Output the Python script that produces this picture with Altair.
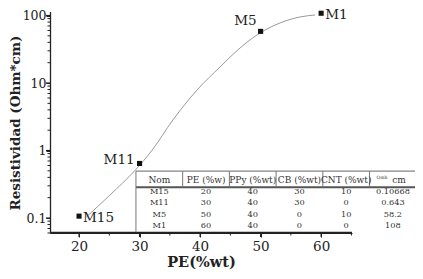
import altair as alt
import pandas as pd

# ---- measured samples ----
names = ["M15", "M11", "M5", "M1"]
pe = [20, 30, 50, 60]
res = [0.10668, 0.643, 58.2, 108]

# fitted curve
curve_x = [21.2, 25.1, 29.3, 32.1, 35.5, 39.5, 43.3, 46.6, 49.9, 53.2, 56.5, 59.0]
curve_y = [0.1035, 0.219, 0.514, 1.02, 2.83, 7.88, 17.3, 33.0, 55.1, 77.5, 95.1, 101.8]

# ---- inset table ----
col_heads = ["Nom", "PE (%w)", "PPy (%wt)", "CB (%wt)", "CNT (%wt)", "cm"]
col_pe = ["20", "30", "50", "60"]
col_ppy = ["40", "40", "40", "40"]
col_cb = ["30", "30", "0", "0"]
col_cnt = ["10", "0", "10", "0"]
col_res = ["0.10668", "0.643", "58.2", "108"]
res_unit_sup = "Omh"

# ---- axes ----
x_domain = [15.2, 65.1]
y_domain = [0.06, 112.7]
y_major = [0.1, 1, 10, 100]
y_minor = [0.06, 0.07, 0.08, 0.09, 0.2, 0.3, 0.4, 0.5, 0.6, 0.7, 0.8, 0.9,
           2, 3, 4, 5, 6, 7, 8, 9, 20, 30, 40, 50, 60, 70, 80, 90]
x_major = [20, 30, 40, 50, 60]
x_minor = [25, 35, 45, 55, 65]

FONT = "DejaVu Serif"
TXT = "#222222"
TT = "#333333"
AX = "#222222"
W, H = 302, 221

# table geometry, expressed in the chart's own data units
TX0, CW = 29.4, 7.72           # left border (PE) and column width
LY_HDR, LY_STEP = -0.44, 0.17  # log10 of header row centre, row step (decades)
LY_TOP, LY_HLINE, LY_BOT = -0.305, -0.545, -1.21

pts = pd.DataFrame({"name": names, "pe": pe, "res": res})
curve = pd.DataFrame({"pe": curve_x, "res": curve_y})

xs = alt.Scale(domain=x_domain, nice=False, zero=False)
ys = alt.Scale(type="log", domain=y_domain, nice=False)

x_axis = alt.Axis(
    values=x_major, tickSize=4, tickWidth=1, grid=False, title="PE(%wt)", labelFontSize=13.5,
    labelPadding=2, titleFontSize=14.5, titlePadding=3,
    domainColor=AX, domainWidth=1, tickColor=AX,
)
y_axis = alt.Axis(
    values=y_major, format="~g", tickSize=4, tickWidth=1, grid=False, title="Resistividad (Ohm*cm)",
    labelFontSize=12.5, labelPadding=0, titleFontSize=13.5, titlePadding=0,
    domainColor=AX, domainWidth=1, tickColor=AX,
)

X = lambda f: alt.X(f, scale=xs, axis=x_axis)
Y = lambda f: alt.Y(f, scale=ys, axis=y_axis)

line = alt.Chart(curve).mark_line(color="#9a9a9a", strokeWidth=1, interpolate="monotone").encode(
    x=X("pe:Q"), y=Y("res:Q")
)
points = alt.Chart(pts).mark_point(shape="square", filled=True, size=26, color="#111111", opacity=1).encode(
    x=X("pe:Q"), y=Y("res:Q")
)
lab_r = alt.Chart(pts).transform_filter(
    alt.FieldOneOfPredicate(field="name", oneOf=["M15", "M1"])
).mark_text(align="left", baseline="middle", dx=4, dy=1.5, font=FONT, fontSize=13.5, color=TXT).encode(
    x=X("pe:Q"), y=Y("res:Q"), text="name:N"
)
lab_m11 = alt.Chart(pts).transform_filter(
    alt.FieldEqualPredicate(field="name", equal="M11")
).mark_text(align="right", baseline="middle", dx=-5, dy=-3, font=FONT, fontSize=13.5, color=TXT).encode(
    x=X("pe:Q"), y=Y("res:Q"), text="name:N"
)
lab_m5 = alt.Chart(pts).transform_filter(
    alt.FieldEqualPredicate(field="name", equal="M5")
).mark_text(align="right", baseline="middle", dx=-4, dy=-10, font=FONT, fontSize=13.5, color=TXT).encode(
    x=X("pe:Q"), y=Y("res:Q"), text="name:N"
)

# axis lines and ticks drawn through the scales
frame = pd.DataFrame({"x0": [x_domain[0]], "x1": [x_domain[1]], "y0": [y_domain[0]], "y1": [y_domain[1]]})
y_line = alt.Chart(frame).mark_rule(color=AX, strokeWidth=1.3).encode(
    y=Y("y0:Q"), y2="y1:Q", x=alt.value(0.5))
x_line = alt.Chart(frame).mark_rule(color=AX, strokeWidth=1.3).encode(
    x=X("x0:Q"), x2="x1:Q", y=alt.value(H - 0.5))
y_major_ticks = alt.Chart(pd.DataFrame({"v": y_major})).mark_rule(color=AX, strokeWidth=1.2).encode(
    y=Y("v:Q"), x=alt.value(0), x2=alt.value(-4))
y_minor_ticks = alt.Chart(pd.DataFrame({"v": y_minor})).mark_rule(color=AX, strokeWidth=1).encode(
    y=Y("v:Q"), x=alt.value(0), x2=alt.value(-2.5))
x_major_ticks = alt.Chart(pd.DataFrame({"v": x_major})).mark_rule(color=AX, strokeWidth=1.2).encode(
    x=X("v:Q"), y=alt.value(H), y2=alt.value(H + 4))
x_minor_ticks = alt.Chart(pd.DataFrame({"v": x_minor})).mark_rule(color=AX, strokeWidth=1).encode(
    x=X("v:Q"), y=alt.value(H), y2=alt.value(H + 2.5))

# ---- table cells ----
body_cols = [names, col_pe, col_ppy, col_cb, col_cnt, col_res]
cells = []
for ci, h in enumerate(col_heads):
    cx = TX0 + (ci + 0.5) * CW
    if ci < len(col_heads) - 1:
        cells.append({"x": cx, "y": 10 ** LY_HDR, "txt": h, "kind": "head"})
    for ri, v in enumerate(body_cols[ci]):
        cells.append({"x": cx, "y": 10 ** (LY_HDR - (ri + 1) * LY_STEP), "txt": v, "kind": "body"})
cells = pd.DataFrame(cells)
last_cx = TX0 + 5.5 * CW
res_head = pd.DataFrame({"x": [last_cx], "y": [10 ** LY_HDR], "sup": [res_unit_sup], "unit": [col_heads[-1]]})

head_txt = alt.Chart(cells).transform_filter("datum.kind == 'head'").mark_text(
    font=FONT, fontSize=9, color=TT, baseline="middle"
).encode(x=X("x:Q"), y=Y("y:Q"), text="txt:N")
body_txt = alt.Chart(cells).transform_filter("datum.kind == 'body'").mark_text(
    font=FONT, fontSize=8.2, color=TT, baseline="middle"
).encode(x=X("x:Q"), y=Y("y:Q"), text="txt:N")
sup_txt = alt.Chart(res_head).mark_text(font=FONT, fontSize=4.5, dx=-11, dy=-2, color=TT, baseline="middle").encode(
    x=X("x:Q"), y=Y("y:Q"), text="sup:N")
unit_txt = alt.Chart(res_head).mark_text(font=FONT, fontSize=9, dx=6, color=TT, baseline="middle").encode(
    x=X("x:Q"), y=Y("y:Q"), text="unit:N")

hl = pd.DataFrame({
    "x0": [TX0, TX0], "x1": [TX0 + 6 * CW, TX0 + 6 * CW],
    "y": [10 ** LY_TOP, 10 ** LY_HLINE], "kind": ["top", "head"],
})
top_line = alt.Chart(hl).transform_filter("datum.kind == 'top'").mark_rule(color="#666666", strokeWidth=1).encode(
    x=X("x0:Q"), x2="x1:Q", y=Y("y:Q"))
head_line = alt.Chart(hl).transform_filter("datum.kind == 'head'").mark_rule(color="#555555", strokeWidth=2).encode(
    x=X("x0:Q"), x2="x1:Q", y=Y("y:Q"))
vl = pd.DataFrame({
    "x": [TX0 + i * CW for i in range(6)],
    "y0": [10 ** LY_TOP] * 6,
    "y1": [10 ** LY_BOT] + [10 ** LY_HLINE] * 5,
})
vline = alt.Chart(vl).mark_rule(color="#777777", strokeWidth=1).encode(
    x=X("x:Q"), y=Y("y0:Q"), y2="y1:Q")

chart = alt.layer(
    line, points, lab_r, lab_m11, lab_m5,
    y_line, x_line, y_major_ticks, y_minor_ticks, x_major_ticks, x_minor_ticks,
    top_line, head_line, vline, head_txt, body_txt, sup_txt, unit_txt,
).properties(
    width=W, height=H, autosize="none",
    padding={"left": 42, "top": 4, "right": 63, "bottom": 38},
).configure_view(stroke=None).configure_axis(
    labelFont=FONT, titleFont=FONT, titleFontWeight="bold", labelColor=TXT, titleColor=TXT,
)

chart.save("out.html", embed_options={"renderer": "svg", "actions": False})
